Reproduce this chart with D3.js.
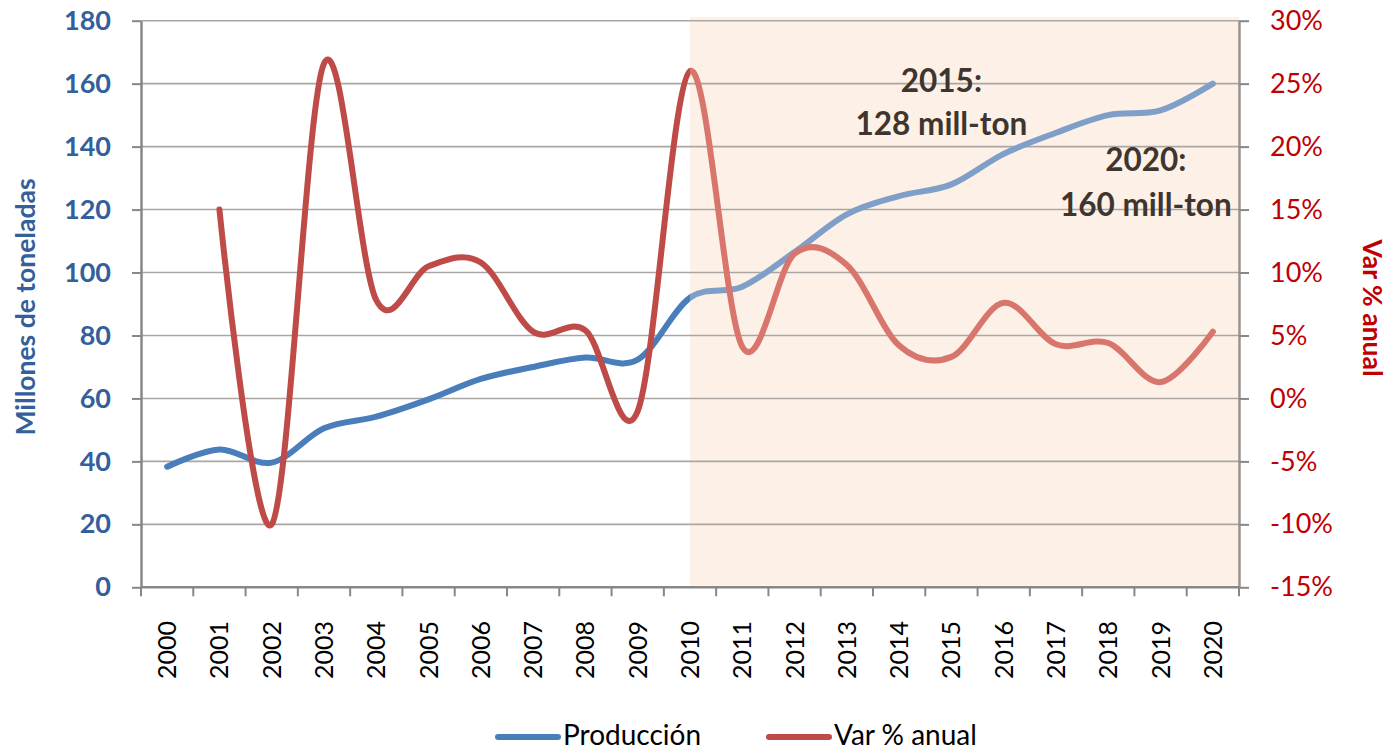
<!DOCTYPE html>
<html><head><meta charset="utf-8">
<script src="https://cdn.jsdelivr.net/npm/d3@7"></script>
<style>body{margin:0;background:#fff}svg{display:block;font-family:Lato,"Open Sans",sans-serif}</style>
</head><body><svg id="c" width="1388" height="753"></svg>
<script>
const years = ["2000","2001","2002","2003","2004","2005","2006","2007","2008","2009","2010","2011","2012","2013","2014","2015","2016","2017","2018","2019","2020"];
const produccion = [38.3,43.8,39.6,50.5,54.2,59.7,66.2,70,73,72.3,92,95.5,106.5,118.5,124.3,128,137.7,144.4,150,151.5,160];
const varAnual = [null,15,-10,26.6,7.8,10.5,10.8,5.3,5.4,-1.0,26.0,4.1,11.5,10.6,4.2,3.3,7.6,4.3,4.4,1.3,5.3];
const leftTicks = [0,20,40,60,80,100,120,140,160,180];
const rightTicks = [-15,-10,-5,0,5,10,15,20,25,30];
const shadeFrom = "2010";
const notes = [
  {year:"2015", lines:["2015:","128 mill-ton"]},
  {year:"2020", lines:["2020:","160 mill-ton"]}
];
const seriesNames = ["Producción","Var % anual"];

const svg = d3.select("#c");
const L = 141, R = 1239, T = 20.7, B = 587.3;
const x = d3.scalePoint(years, [L, R]).padding(0.5);
const yL = d3.scaleLinear([0, 180], [B, T]);
const yR = d3.scaleLinear([-15, 30], [B, T]);
const step = x.step();

const blue = "#4a7ebb", red = "#be4b48";
const blueS = "#7f9fc8", redS = "#d8766e";

// shading
const xs = x(shadeFrom);
svg.append("rect").attr("x", xs).attr("y", 17).attr("width", R - xs).attr("height", 585.5 - 17)
  .attr("fill", "#fdf0e6");

// gridlines
svg.append("g").selectAll("line").data(leftTicks.slice(1)).join("line")
  .attr("x1", L).attr("x2", R).attr("y1", d => yL(d)).attr("y2", d => yL(d))
  .attr("stroke", "#a9a6a4").attr("stroke-width", 1.6);

// clip paths
const defs = svg.append("defs");
defs.append("clipPath").attr("id", "pre").append("rect").attr("x", 0).attr("y", 0).attr("width", xs).attr("height", 753);
defs.append("clipPath").attr("id", "post").append("rect").attr("x", xs).attr("y", 0).attr("width", 1388 - xs).attr("height", 753);

const curve = d3.curveCardinal.tension(0);
const lineP = d3.line().x((d, i) => x(years[i])).y(d => yL(d)).curve(curve);
const lineV = d3.line().defined(d => d != null).x((d, i) => x(years[i])).y(d => yR(d)).curve(curve);

function drawSeries(gen, data, c1, c2) {
  svg.append("path").attr("d", gen(data)).attr("fill", "none").attr("stroke", c1)
    .attr("stroke-width", 6).attr("stroke-linecap", "round").attr("stroke-linejoin", "round").attr("clip-path", "url(#pre)");
  svg.append("path").attr("d", gen(data)).attr("fill", "none").attr("stroke", c2)
    .attr("stroke-width", 6).attr("stroke-linecap", "round").attr("stroke-linejoin", "round").attr("clip-path", "url(#post)");
}
drawSeries(lineP, produccion, blue, blueS);
drawSeries(lineV, varAnual, red, redS);

// axes
const axisCol = "#878787";
const gl = svg.append("g").attr("transform", `translate(${L},0)`)
  .call(d3.axisLeft(yL).tickValues(leftTicks).tickSize(9).tickPadding(21).tickSizeOuter(0));
gl.select(".domain").attr("stroke", axisCol).attr("stroke-width", 2.5);
gl.selectAll(".tick line").attr("stroke", axisCol).attr("stroke-width", 2);
gl.selectAll(".tick text").attr("fill", "#33609a").attr("font-size", 27).attr("font-weight", "bold")
  .attr("font-family", "Lato");

const gr = svg.append("g").attr("transform", `translate(${R},0)`)
  .call(d3.axisRight(yR).tickValues(rightTicks).tickSize(10).tickPadding(21).tickSizeOuter(0).tickFormat(d => d + "%"));
gr.select(".domain").attr("stroke", "#9a928d").attr("stroke-width", 2.5);
gr.selectAll(".tick line").attr("stroke", axisCol).attr("stroke-width", 2);
gr.selectAll(".tick text").attr("fill", "#c00000").attr("font-size", 27).attr("font-family", "Lato");

// bottom axis
svg.append("line").attr("x1", L).attr("x2", R).attr("y1", B).attr("y2", B).attr("stroke", axisCol).attr("stroke-width", 2.5);
const bounds = years.map(d => x(d) - step / 2).concat([x(years[years.length - 1]) + step / 2]);
svg.append("g").selectAll("line").data(bounds).join("line")
  .attr("x1", d => d).attr("x2", d => d).attr("y1", B).attr("y2", B + 9)
  .attr("stroke", axisCol).attr("stroke-width", 2);
svg.append("g").selectAll("text").data(years).join("text")
  .attr("transform", d => `translate(${x(d)},650) rotate(-90)`)
  .attr("text-anchor", "middle").attr("dy", "0.36em")
  .attr("font-size", 25).attr("fill", "#000").text(d => d);

// axis titles
svg.append("text").attr("transform", "translate(25,307) rotate(-90)").attr("text-anchor", "middle")
  .attr("dy", "0.36em").attr("font-size", 26.5).attr("font-weight", "bold").attr("fill", "#33609a")
  .text("Millones de toneladas");
svg.append("text").attr("transform", "translate(1373,308) rotate(90)").attr("text-anchor", "middle")
  .attr("dy", "0.36em").attr("font-size", 26.5).attr("font-weight", "bold").attr("fill", "#c00000")
  .text("Var % anual");

// annotations
const noteOffsets = {"2015": {dx: -10, y: [92, 135]}, "2020": {dx: -67, y: [171, 216]}};
notes.forEach(n => {
  const o = noteOffsets[n.year];
  n.lines.forEach((t, i) => {
    svg.append("text").attr("x", x(n.year) + o.dx).attr("y", o.y[i]).attr("text-anchor", "middle")
      .attr("font-size", 31.5).attr("font-weight", "bold").attr("fill", "#3e3530").text(t);
  });
});

// legend
const leg = [{name: seriesNames[0], c: blue, x0: 498}, {name: seriesNames[1], c: red, x0: 769}];
leg.forEach(l => {
  svg.append("line").attr("x1", l.x0).attr("x2", l.x0 + 60).attr("y1", 737).attr("y2", 737)
    .attr("stroke", l.c).attr("stroke-width", 6).attr("stroke-linecap", "round");
  svg.append("text").attr("x", l.x0 + 65).attr("y", 745).attr("font-size", 28).attr("fill", "#000").text(l.name);
});
</script></body></html>
